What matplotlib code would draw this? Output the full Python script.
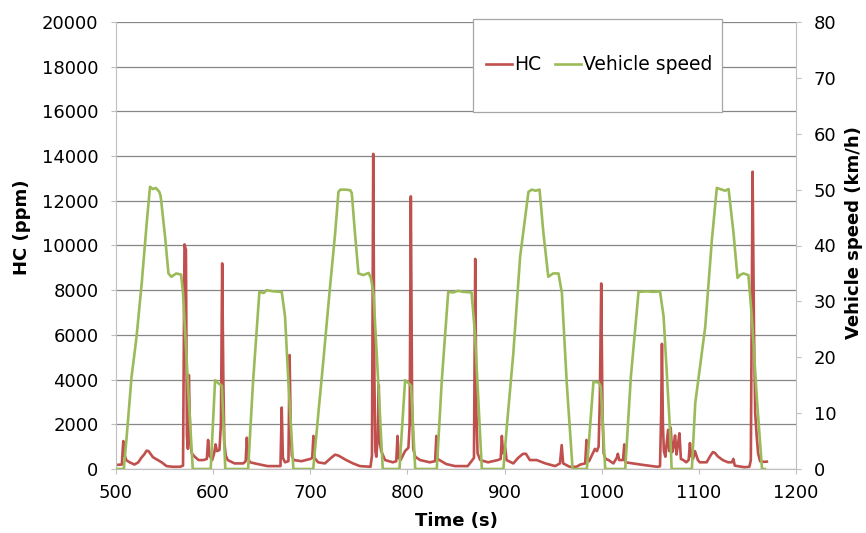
import matplotlib
matplotlib.use("Agg")
import matplotlib.pyplot as plt
from matplotlib.patches import Rectangle

# HC concentration trace (time in s, ppm)
hc_points = [
    (500, 180), (506, 200), (507.5, 1250), (509, 600), (510.5, 400), (514, 300),
    (519, 200), (523, 300), (526, 500), (529, 650), (531.5, 820), (533.5, 800),
    (536, 650), (538, 530), (543, 400), (547, 300), (552, 130), (558, 100),
    (566, 100), (569, 150), (570.5, 10050), (572, 9800), (573, 1500), (574, 900),
    (575, 4200), (576.5, 1200), (578, 700), (581, 550), (585, 400), (590, 400),
    (593.5, 450), (594.8, 1300), (596.2, 600), (599, 400), (601, 700), (602.5, 1100),
    (604, 800), (606.5, 850), (608, 2000), (609.3, 9200), (610.5, 4000), (611.5, 1200),
    (613, 600), (615, 400), (622, 250), (631, 250), (633.5, 350), (634.7, 1400),
    (635.8, 500), (638, 300), (646, 220), (656, 130), (669.3, 130), (670.6, 2750),
    (671.8, 500), (674, 300), (677.5, 350), (678.7, 5100), (680, 1500), (681, 600),
    (683, 400), (691, 350), (700, 450), (702, 500), (703.2, 1480), (704.3, 500),
    (708, 300), (715, 250), (722, 520), (725.5, 640), (729, 600), (731, 550),
    (737, 400), (744, 250), (751, 130), (762, 100), (763.5, 600), (764.8, 14100),
    (766, 4000), (767, 800), (768, 550), (769.5, 1500), (770.5, 3750), (771.5, 1200),
    (773, 800), (777, 400), (785, 300), (788.5, 350), (789.8, 1480), (791, 500),
    (793, 400), (797.5, 800), (801, 950), (802.3, 2000), (803.5, 12200), (804.8, 3000),
    (806, 900), (808, 550), (813, 400), (823, 300), (828.5, 350), (829.8, 1480),
    (831, 450), (833, 400), (840, 220), (849, 130), (862, 130), (866, 350),
    (868.5, 500), (869.8, 9400), (871, 2500), (872.2, 700), (875, 400), (883, 300),
    (893, 400), (896, 450), (897.2, 1480), (898.4, 700), (900.6, 980), (902, 400),
    (909, 250), (914, 500), (919, 680), (922, 680), (926, 400), (933, 400),
    (942, 250), (952, 130), (957, 250), (958.8, 1070), (960.3, 250), (967, 100),
    (974, 100), (978, 200), (983, 250), (984.3, 1300), (985.6, 350), (987, 350),
    (993, 900), (995, 800), (996.8, 1000), (998, 3000), (999.5, 8300), (1000.8, 2500),
    (1002, 700), (1004, 450), (1007, 400), (1012, 250), (1015.5, 500), (1016.6, 680),
    (1018, 400), (1022, 400), (1023.2, 1100), (1024.4, 300), (1032, 250), (1043, 180),
    (1057, 100), (1060, 120), (1061.2, 2500), (1062, 5600), (1063, 2000), (1064, 800),
    (1065.5, 550), (1067, 1200), (1068.3, 1750), (1069.5, 800), (1071, 1850), (1072.5, 750),
    (1074, 1000), (1075.5, 1500), (1077, 650), (1078.5, 1100), (1080, 1600), (1081.5, 450),
    (1084, 400), (1087, 300), (1089.5, 400), (1090.8, 1160), (1092, 600), (1094, 450),
    (1096, 800), (1099, 400), (1101, 300), (1108, 300), (1112, 600), (1114.5, 760),
    (1116.5, 720), (1119.6, 560), (1124.6, 400), (1130, 300), (1134, 300), (1135.5, 450),
    (1137, 150), (1147, 80), (1152, 100), (1153.5, 400), (1155.3, 13300), (1156.8, 6000),
    (1158, 2500), (1159.5, 1500), (1161, 700), (1163, 350), (1167, 320), (1170, 330),
]

# vehicle speed trace (time in s, km/h)
speed_points = [
    (500, 0), (508, 0), (511, 5.8), (516, 16.5), (521, 23.4), (526.5, 33.3),
    (531.6, 44), (535, 50.5), (538, 50.1), (541, 50.3), (544.6, 49.6), (546, 48.8),
    (550.5, 41.6), (554, 35), (557, 34.4), (562, 35), (567, 34.8), (569, 31.5),
    (574, 15.4), (579, 0), (597.5, 0), (602, 15.9), (605, 15.4), (609, 14.9),
    (612.5, 0), (636, 0), (641, 15.4), (647.6, 31.7), (652, 31.5), (655, 32),
    (662, 31.8), (670.6, 31.7), (674, 27.3), (677.5, 15.4), (682.6, 0), (703, 0),
    (708, 9.4), (713.5, 19.5), (720, 32), (725.5, 42), (729, 49.6), (731, 50),
    (736, 50), (741, 49.9), (742.7, 49.4), (746, 42.2), (749.6, 35), (754.7, 34.7),
    (760, 35.1), (762.4, 34.2), (765, 31.5), (770, 15.4), (774.6, 0), (791.8, 0),
    (797.6, 15.9), (801, 15.4), (803.7, 14.9), (808, 0), (830.2, 0), (835.4, 15.9),
    (842, 31.7), (847, 31.6), (852, 31.9), (857.6, 31.7), (866, 31.6), (869.5, 24.3),
    (876.6, 0), (898.8, 0), (902.3, 7.6), (909, 20.7), (916, 38), (924.6, 49.6),
    (928, 50), (932, 49.8), (936, 50), (940, 42.2), (945, 34.4), (950, 35),
    (955.5, 35), (959, 31.5), (964, 15.4), (970, 0), (984.7, 0), (991.5, 15.6),
    (996.7, 15.5), (999, 14.8), (1003.6, 0), (1024.2, 0), (1030, 16.5), (1037.9, 31.7),
    (1046, 31.8), (1053, 31.7), (1060, 31.8), (1063.7, 27.3), (1070.5, 6.4), (1072, 0),
    (1092.8, 0), (1096.3, 11.8), (1106.6, 25.5), (1113.4, 41), (1118.5, 50.3), (1123.7, 50),
    (1127, 49.8), (1130.6, 50.1), (1135.7, 42.2), (1139.8, 34.2), (1143, 34.8), (1146, 35),
    (1151, 34.7), (1154.5, 27.3), (1159.8, 12.4), (1165, 0), (1168, 0),
]

hc_time, hc_ppm = zip(*hc_points)
speed_time, speed_kmh = zip(*speed_points)

hc_ticks = list(range(0, 20001, 2000))
speed_ticks = list(range(0, 81, 10))
time_ticks = list(range(500, 1201, 100))

red = "#C0504D"
green = "#9BBB59"
axis_grey = "#BFBFBF"
grid_grey = "#868686"

plt.rcParams["font.family"] = "DejaVu Sans"

fig = plt.figure(figsize=(8.66, 5.33), dpi=100)
ax = fig.add_axes([116 / 866, 1 - 469 / 533, 680 / 866, 447 / 533])

l1, = ax.plot(hc_time, hc_ppm, color=red, lw=1.9, label="HC")
ax.set_xlim(500, 1200)
ax.set_ylim(0, 20000)
ax.set_xticks(time_ticks)
ax.set_yticks(hc_ticks)
ax.grid(axis="y", color=grid_grey, lw=0.9)
ax.set_axisbelow(True)

ax2 = ax.twinx()
l2, = ax2.plot(speed_time, speed_kmh, color=green, lw=1.9, label="Vehicle speed")
ax2.set_ylim(0, 80)
ax2.set_yticks(speed_ticks)

for a in (ax, ax2):
    for s in a.spines.values():
        s.set_visible(False)
ax.spines["left"].set_visible(True)
ax.spines["bottom"].set_visible(True)
ax.spines["left"].set_color(axis_grey)
ax.spines["bottom"].set_color(axis_grey)
ax2.spines["right"].set_visible(True)
ax2.spines["right"].set_color(axis_grey)

ax.tick_params(axis="y", direction="out", length=3.6, color=axis_grey,
               labelsize=13, pad=9)
ax.tick_params(axis="x", direction="out", length=3.6, color=axis_grey,
               labelsize=13, pad=7)
ax2.tick_params(axis="y", direction="out", length=3.6, color=axis_grey,
                labelsize=13, pad=9)

ax.set_xlabel("Time (s)", fontsize=13, fontweight="bold")
ax.set_ylabel("HC (ppm)", fontsize=13, fontweight="bold")
ax2.set_ylabel("Vehicle speed (km/h)", fontsize=13, fontweight="bold")
ax.xaxis.set_label_coords(0.5, -0.096)
ax.yaxis.set_label_coords(-0.125, 0.54)
ax2.yaxis.set_label_coords(1.072, 0.53)

# legend box drawn as its own patch so the padding can differ per side
fig.patches.append(Rectangle((473 / 866, 1 - 112 / 533), 249 / 866, 93 / 533,
                             transform=fig.transFigure, facecolor="white",
                             edgecolor="#A6A6A6", lw=0.9, zorder=3))
fig.legend(handles=[l1, l2], loc="center", bbox_to_anchor=(599 / 866, 1 - 65 / 533),
           ncol=2, frameon=False, fontsize=13.5, handlelength=1.4,
           handletextpad=0.1, columnspacing=0.75)

fig.savefig("out.png", dpi=100)
